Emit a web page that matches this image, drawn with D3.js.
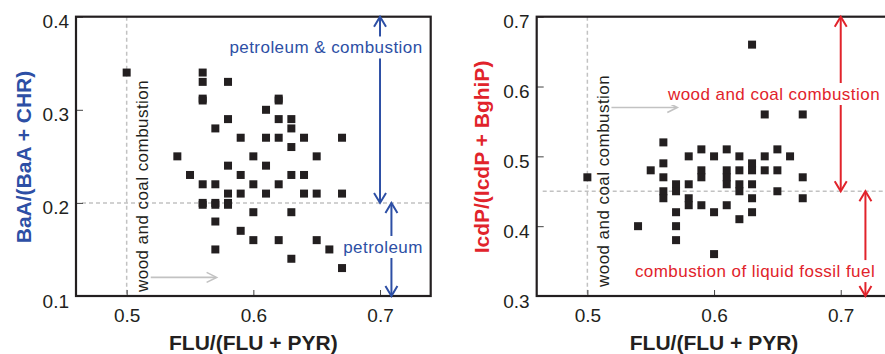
<!DOCTYPE html>
<meta charset="utf-8">
<script src="https://d3js.org/d3.v7.min.js"></script>
<style>
  body { margin: 0; background: #fff; }
  svg { font-family: "Liberation Sans", Arial, Helvetica, sans-serif; }
  .tick text { fill: #231f20; }
  .tick line { stroke: #444; }
</style>
<div id="chart"></div>
<script>

var xTicks = [0.5, 0.6, 0.7];
var baaTicks = [0.1, 0.2, 0.3, 0.4];
var icdTicks = [0.3, 0.4, 0.5, 0.6, 0.7];

// [FLU/(FLU+PYR), BaA/(BaA+CHR)]
var baaPoints = [
  [0.50,0.34],[0.56,0.34],[0.56,0.33],[0.58,0.33],[0.56,0.31],[0.56,0.312],
  [0.62,0.31],[0.62,0.312],[0.61,0.30],[0.58,0.29],[0.62,0.29],[0.63,0.29],
  [0.57,0.28],[0.63,0.28],[0.59,0.27],[0.61,0.27],[0.62,0.27],[0.64,0.27],
  [0.67,0.27],[0.63,0.26],[0.54,0.25],[0.60,0.25],[0.65,0.25],[0.58,0.24],
  [0.61,0.24],[0.55,0.23],[0.59,0.23],[0.63,0.23],[0.64,0.23],[0.56,0.22],
  [0.57,0.22],[0.60,0.22],[0.62,0.22],[0.58,0.21],[0.59,0.21],[0.61,0.21],
  [0.64,0.21],[0.65,0.21],[0.67,0.21],[0.56,0.20],[0.56,0.198],[0.57,0.20],
  [0.57,0.198],[0.58,0.20],[0.58,0.198],[0.60,0.19],[0.63,0.19],[0.57,0.18],
  [0.59,0.17],[0.60,0.16],[0.62,0.16],[0.65,0.16],[0.57,0.15],[0.66,0.15],
  [0.63,0.14],[0.67,0.13]
];

// [FLU/(FLU+PYR), IcdP/(IcdP+BghiP)]
var icdPoints = [
  [0.50,0.47],[0.54,0.40],[0.55,0.48],
  [0.56,0.52],[0.56,0.49],[0.56,0.47],[0.56,0.45],[0.56,0.44],
  [0.57,0.46],[0.57,0.45],[0.57,0.42],[0.57,0.40],[0.57,0.38],
  [0.58,0.50],[0.58,0.46],[0.58,0.44],[0.58,0.43],
  [0.59,0.51],[0.59,0.48],[0.59,0.47],[0.59,0.43],
  [0.60,0.50],[0.60,0.42],[0.60,0.36],
  [0.61,0.51],[0.61,0.48],[0.61,0.47],[0.61,0.46],[0.61,0.43],
  [0.62,0.50],[0.62,0.48],[0.62,0.46],[0.62,0.45],[0.62,0.41],
  [0.63,0.66],[0.63,0.49],[0.63,0.48],[0.63,0.46],[0.63,0.44],[0.63,0.42],
  [0.64,0.56],[0.64,0.50],[0.64,0.48],
  [0.65,0.51],[0.65,0.48],[0.65,0.45],
  [0.66,0.50],
  [0.67,0.56],[0.67,0.47],[0.67,0.44]
];

var blue = "#2d4fa5",
    red = "#e1232b",
    grey = "#c2c2c2",
    ink = "#231f20";

var svg = d3.select("#chart")
  .append("svg")
    .attr("width", 885)
    .attr("height", 354);

function arrowHead(g, x, y, dx, dy, color, w, len, half) {
  // open V head with tip at (x, y), pointing along (dx, dy)
  var nx = -dy, ny = dx;
  g.append("path")
    .attr("d", "M" + (x - dx*len + nx*half) + "," + (y - dy*len + ny*half) +
               "L" + x + "," + y +
               "L" + (x - dx*len - nx*half) + "," + (y - dy*len - ny*half))
    .attr("fill", "none")
    .attr("stroke", color)
    .attr("stroke-width", w)
    .attr("stroke-linejoin", "miter");
}

function vArrow(g, x, ya, yb, color) {
  g.append("line")
    .attr("x1", x).attr("x2", x).attr("y1", ya + 1).attr("y2", yb - 1)
    .attr("stroke", color).attr("stroke-width", 2);
  arrowHead(g, x, ya, 0, -1, color, 2, 10, 6);
  arrowHead(g, x, yb, 0, 1, color, 2, 10, 6);
}

function hArrow(g, xa, xb, y) {
  g.append("line")
    .attr("x1", xa).attr("x2", xb - 1).attr("y1", y).attr("y2", y)
    .attr("stroke", grey).attr("stroke-width", 1.6);
  arrowHead(g, xb, y, 1, 0, grey, 1.6, 10, 5);
}

function label(g, txt, x, y, color, anchor) {
  var t = g.append("text")
    .attr("x", x).attr("y", y)
    .attr("text-anchor", anchor || "middle")
    .attr("font-size", 17)
    .attr("letter-spacing", "0.45px")
    .attr("fill", color)
    .text(txt);
  var b = t.node().getBBox();
  g.insert("rect", function() { return t.node(); })
    .attr("x", b.x - 2).attr("y", b.y - 2)
    .attr("width", b.width + 4).attr("height", b.height + 3)
    .attr("fill", "#fff");
  return t;
}

function drawPanel(opt) {
  var x = d3.scaleLinear().domain([0.46, 0.74]).range([opt.left, opt.left + 354.7]);
  var y = d3.scaleLinear().domain(opt.yDomain).range([296, 16.7]);
  var g = svg.append("g");

  // reference lines
  g.append("line")
    .attr("x1", x(0.5)).attr("x2", x(0.5))
    .attr("y1", y.range()[1]).attr("y2", y.range()[0])
    .attr("stroke", grey).attr("stroke-width", 1.5).attr("stroke-dasharray", "4,3");
  g.append("line")
    .attr("x1", x.range()[0] + 6).attr("x2", x.range()[1])
    .attr("y1", y(opt.split)).attr("y2", y(opt.split))
    .attr("stroke", grey).attr("stroke-width", 1.5).attr("stroke-dasharray", "4,3");

  // axes, ticks pointing inwards
  g.append("g")
      .attr("transform", "translate(0," + y.range()[0] + ")")
      .call(d3.axisBottom(x).tickValues(xTicks).tickSize(-6).tickPadding(13)
              .tickFormat(d3.format(".1f")))
      .call(function(a) { a.select(".domain").remove(); })
      .attr("font-size", 19)
      .attr("font-family", null);
  g.append("g")
      .attr("transform", "translate(" + x.range()[0] + ",0)")
      .call(d3.axisLeft(y).tickValues(opt.yTicks).tickSize(-7).tickPadding(7)
              .tickFormat(d3.format(".1f")))
      .call(function(a) { a.select(".domain").remove(); })
      .attr("font-size", 19)
      .attr("font-family", null)
      .selectAll("text").attr("dy", "0.58em");

  // frame
  g.append("rect")
    .attr("x", x.range()[0]).attr("y", y.range()[1])
    .attr("width", x.range()[1] - x.range()[0])
    .attr("height", y.range()[0] - y.range()[1])
    .attr("fill", "none").attr("stroke", ink).attr("stroke-width", 2.2);

  // points
  g.selectAll(".pt")
    .data(opt.points)
    .enter()
    .append("rect")
      .attr("class", "pt")
      .attr("x", function(d) { return x(d[0]) - 4; })
      .attr("y", function(d) { return y(d[1]) - 4; })
      .attr("width", 8)
      .attr("height", 8)
      .attr("fill", ink);

  // source arrows
  vArrow(g, x(opt.arrowX[0]), y(opt.yDomain[1]), y(opt.split), opt.color);
  vArrow(g, x(opt.arrowX[1]), y(opt.split), y(opt.yDomain[0]), opt.color);
  hArrow(g, x(0.519), x(0.571), y(opt.greyY));

  // rotated note next to x = 0.5
  g.append("text")
    .attr("transform", "translate(" + (x(0.5) + opt.noteDx) + "," + opt.noteY + ") rotate(-90)")
    .attr("font-size", 17)
    .attr("letter-spacing", "0.45px")
    .attr("fill", ink)
    .text("wood and coal combustion");

  opt.labels.forEach(function(l) {
    label(g, l.text, l.x, y(l.y), opt.color);
  });

  // axis titles
  g.append("text")
    .attr("x", x(0.6)).attr("y", 350)
    .attr("text-anchor", "middle")
    .attr("font-size", 21).attr("font-weight", "bold")
    .attr("fill", ink)
    .text("FLU/(FLU + PYR)");
  g.append("text")
    .attr("transform", "translate(" + opt.titleX + ",157) rotate(-90)")
    .attr("text-anchor", "middle")
    .attr("font-size", 21).attr("font-weight", "bold")
    .attr("fill", opt.color)
    .text(opt.title);
}

drawPanel({
  left: 76,
  yDomain: [0.1, 0.4],
  yTicks: baaTicks,
  points: baaPoints,
  split: 0.2,
  arrowX: [0.70, 0.709],
  greyY: 0.12,
  noteDx: 21,
  noteY: 292,
  color: blue,
  title: "BaA/(BaA + CHR)",
  titleX: 31,
  labels: [
    {text: "petroleum & combustion", x: 326, y: 0.3605},
    {text: "petroleum", x: 383, y: 0.1462}
  ]
});

drawPanel({
  left: 536.7,
  yDomain: [0.3, 0.7],
  yTicks: icdTicks,
  points: icdPoints,
  split: 0.45,
  arrowX: [0.70, 0.7195],
  greyY: 0.57,
  noteDx: 22,
  noteY: 287,
  color: red,
  title: "IcdP/(IcdP + BghiP)",
  titleX: 489,
  labels: [
    {text: "wood and coal combustion", x: 774, y: 0.5807},
    {text: "combustion of liquid fossil fuel", x: 755, y: 0.3271}
  ]
});

</script>
